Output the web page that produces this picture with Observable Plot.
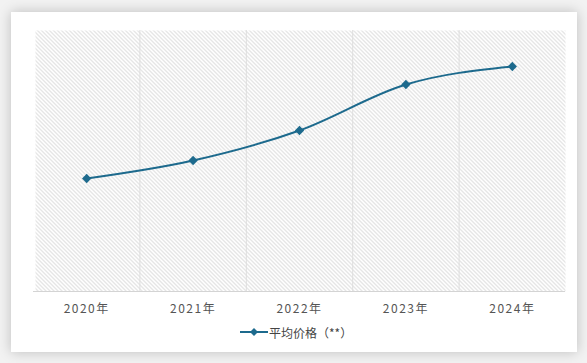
<!DOCTYPE html>
<html><head><meta charset="utf-8">
<script src="https://cdn.jsdelivr.net/npm/d3@7"></script>
<script src="https://cdn.jsdelivr.net/npm/@observablehq/plot@0.6"></script>
<style>
html,body{margin:0;padding:0;background:#f2f2f2;width:587px;height:363px;overflow:hidden;font-family:"Noto Sans CJK SC","Noto Sans",sans-serif;}
#card{position:absolute;left:11px;top:12px;width:566px;height:340px;background:#fff;box-shadow:0 0 12px rgba(0,0,0,0.22);}
#chart{position:absolute;left:0;top:0;}
#legend{position:absolute;left:229px;top:311px;height:18px;display:flex;align-items:center;font-size:12px;color:#444;}
</style></head>
<body>
<div id="card"><div id="chart"></div><div id="legend"></div></div>
<script>
const years = ["2020年","2021年","2022年","2023年","2024年"];
const prices = [113, 131, 161, 207, 225];
const seriesName = "平均价格（**）";
const lineColor = "#1d6a8d";

const data = years.map((y, i) => ({i, year: y, price: prices[i]}));
const bounds = years.slice(1).map((_, i) => i + 0.5);

const plot = Plot.plot({
  width: 566,
  height: 310,
  marginLeft: 22,
  marginRight: 12,
  marginTop: 18,
  marginBottom: 31,
  style: {fontFamily: '"Noto Sans CJK SC", sans-serif', fontSize: "12px", color: "#555", background: "transparent"},
  x: {type: "linear", domain: [-0.5, years.length - 0.5], ticks: d3.range(years.length), tickFormat: i => years[i], tickSize: 0, tickPadding: 13, label: null},
  y: {domain: [0, 261], axis: null},
  marks: [
    Plot.frame({fill: "url(#hatch)", stroke: null, insetLeft: 2}),
    Plot.ruleX(bounds, {stroke: "#dedede", strokeWidth: 1}),
    Plot.ruleY([0], {stroke: "#d4d4d4", strokeWidth: 1}),
    Plot.line(data, {x: "i", y: "price", stroke: lineColor, strokeWidth: 2, curve: "monotone-x"}),
    Plot.dot(data, {x: "i", y: "price", symbol: "diamond2", r: 4.2, fill: lineColor, stroke: null})
  ]
});

const ns = "http://www.w3.org/2000/svg";
const defs = document.createElementNS(ns, "defs");
defs.innerHTML = '<pattern id="hatch" patternUnits="userSpaceOnUse" width="4" height="4"><path d="M-1,-1 L5,5 M-1,3 L1,5 M3,-1 L5,1" stroke="#cdcdcd" stroke-width="1"/></pattern>';
plot.insertBefore(defs, plot.firstChild);
plot.querySelectorAll("text").forEach(t => t.setAttribute("letter-spacing", "1.5"));
document.getElementById("chart").appendChild(plot);

// legend
const lg = document.getElementById("legend");
const sw = document.createElementNS(ns, "svg");
sw.setAttribute("width", 28); sw.setAttribute("height", 12);
sw.innerHTML = `<line x1="0" y1="6" x2="28" y2="6" stroke="${lineColor}" stroke-width="2"/><path d="M14,2 L18,6 L14,10 L10,6 Z" fill="${lineColor}"/>`;
lg.appendChild(sw);
const sp = document.createElement("span");
sp.textContent = seriesName;
sp.style.marginLeft = "1px";
lg.appendChild(sp);
</script>
</body></html>
